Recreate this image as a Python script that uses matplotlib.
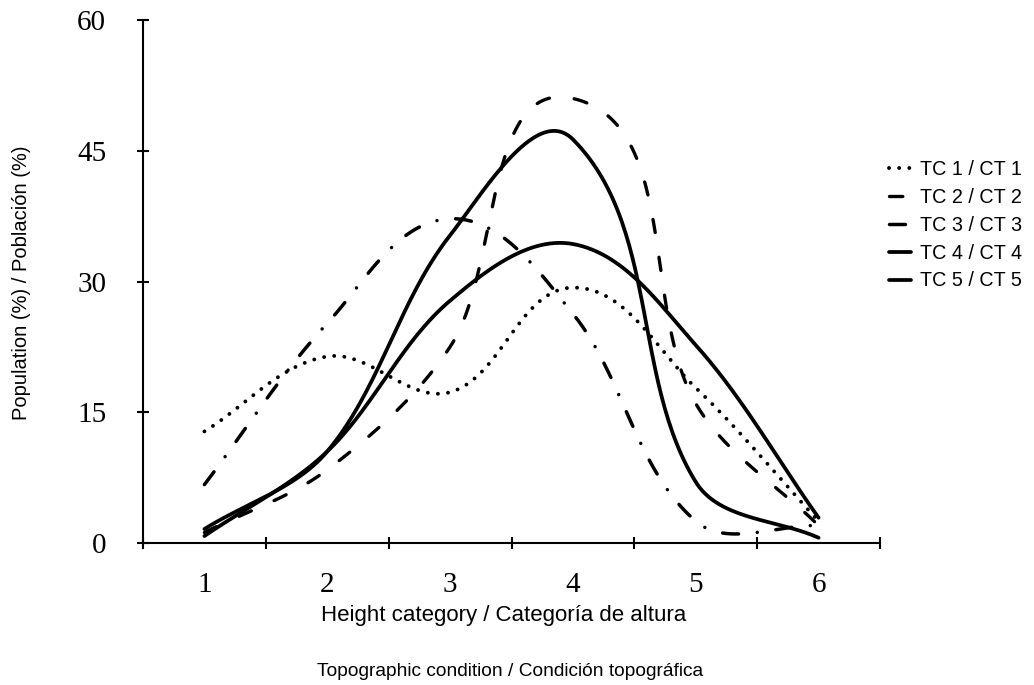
import numpy as np
import matplotlib
matplotlib.use("Agg")
import matplotlib.pyplot as plt
from matplotlib import font_manager

# values, one per height category
categories = [1, 2, 3, 4, 5, 6]
tc1 = [12.8, 21.4, 17.3, 29.3, 17.8, 2.5]
tc2 = [1.2, 8.4, 22.5, 51.0, 16.0, 2.0]
tc3 = [6.7, 25.2, 37.2, 26.3, 2.5, 2.0]
tc4 = [0.8, 10.5, 27.8, 34.3, 22.7, 2.9]
tc5 = [1.6, 10.5, 35.3, 46.3, 7.0, 0.6]
labels = ["TC 1 / CT 1", "TC 2 / CT 2", "TC 3 / CT 3", "TC 4 / CT 4", "TC 5 / CT 5"]
yticks = [0, 15, 30, 45, 60]


def pick_font(*names):
    have = {f.name for f in font_manager.fontManager.ttflist}
    for n in names:
        if n in have:
            return n
    return "DejaVu Sans"


narrow = pick_font("Liberation Sans Narrow", "Arial Narrow", "DejaVu Sans Condensed", "Liberation Sans")
serif = pick_font("Liberation Serif", "DejaVu Serif")


def smooth(ax, xs, ys, n=60):
    # excel-like smoothed line, built in screen space
    pts = ax.transData.transform(np.column_stack([xs, ys]))
    out = [pts[0]]
    t = np.linspace(0, 1, n)[1:, None]
    for i in range(len(pts) - 1):
        p0 = pts[max(i - 1, 0)]
        p1 = pts[i]
        p2 = pts[i + 1]
        p3 = pts[min(i + 2, len(pts) - 1)]
        d = np.linalg.norm(p2 - p1)
        t1 = (p2 - p0) / np.linalg.norm(p2 - p0)
        t2 = (p3 - p1) / np.linalg.norm(p3 - p1)
        c1 = p1 + t1 * d / 3
        c2 = p2 - t2 * d / 3
        seg = ((1 - t) ** 3) * p1 + 3 * ((1 - t) ** 2) * t * c1 + 3 * (1 - t) * t ** 2 * c2 + t ** 3 * p2
        out.extend(seg)
    out = ax.transData.inverted().transform(np.array(out))
    return out[:, 0], out[:, 1]


fig = plt.figure(figsize=(10.34, 6.85), dpi=100)
ax = fig.add_axes([143 / 1034, 1 - 543 / 685, 737 / 1034, 523 / 685])
ax.set_xlim(0.5, 6.5)
ax.set_ylim(0, 60)

styles = [
    dict(linestyle=(0, (0.01, 2.6)), linewidth=2.8, dash_capstyle="round"),
    dict(linestyle=(0, (4.0, 7.5)), linewidth=2.4, dash_capstyle="round"),
    dict(linestyle=(0, (4.6, 5.4, 0.01, 5.4)), linewidth=2.5, dash_capstyle="round"),
    dict(linestyle="-", linewidth=2.7),
    dict(linestyle="-", linewidth=2.7),
]

for vals, lab, st in zip([tc1, tc2, tc3, tc4, tc5], labels, styles):
    sx, sy = smooth(ax, categories, vals)
    ax.plot(sx, sy, color="black", label=lab, solid_capstyle="round", **st)

for s in ["top", "right"]:
    ax.spines[s].set_visible(False)
for s in ["left", "bottom"]:
    ax.spines[s].set_linewidth(1.5)

ax.set_yticks(yticks)
ax.tick_params(axis="y", direction="inout", length=9, width=1.5, pad=22,
               labelsize=21, labelfontfamily=serif)
ax.set_xticks(np.arange(0.5, 7.0, 1.0))
ax.set_xticklabels([])
ax.tick_params(axis="x", which="major", direction="inout", length=9, width=1.5)
ax.set_xticks(categories, minor=True)
ax.set_xticklabels([str(c) for c in categories], minor=True)
ax.tick_params(axis="x", which="minor", length=0, pad=21, labelsize=21, labelfontfamily=serif)

fig.text(22 / 1034, 1 - 283 / 685, "Population (%) / Población (%)", rotation=90,
         ha="center", va="center", fontsize=14.5, family=narrow)
fig.text(504 / 1034, 1 - 615 / 685, "Height category / Categoría de altura",
         ha="center", va="center", fontsize=16, family=narrow)
fig.text(510 / 1034, 1 - 672 / 685, "Topographic condition / Condición topográfica",
         ha="center", va="center", fontsize=13.8, family=narrow)

ax.legend(loc="upper left", bbox_to_anchor=(889 / 1034, 1 - 160 / 685),
          bbox_transform=fig.transFigure, frameon=False, handlelength=1.1,
          handletextpad=0.45, labelspacing=0.45, borderaxespad=0, borderpad=0,
          prop={"family": narrow, "size": 14.2})

fig.savefig("out.png", dpi=100)
